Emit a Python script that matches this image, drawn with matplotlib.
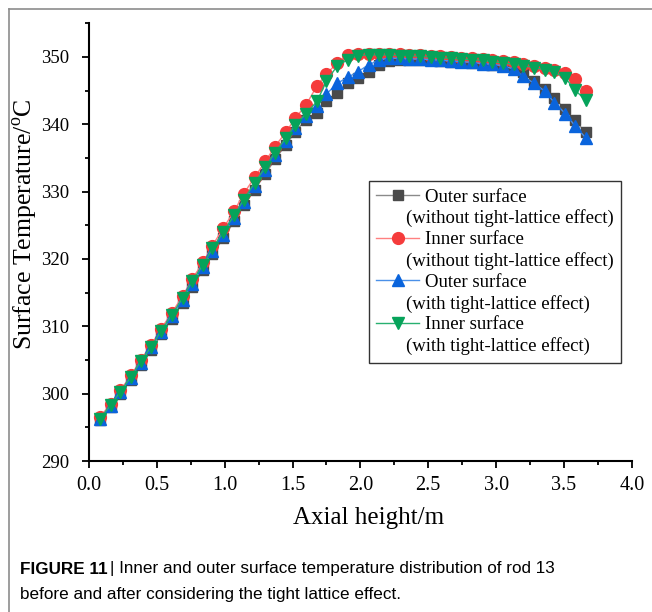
import numpy as np
import matplotlib
matplotlib.use("Agg")
import matplotlib.pyplot as plt
from matplotlib.lines import Line2D
from matplotlib.ticker import MultipleLocator

plt.rcParams['font.family'] = ['Liberation Serif', 'DejaVu Serif']
plt.rcParams['mathtext.fontset'] = 'custom'
plt.rcParams['mathtext.rm'] = 'Liberation Serif'

# axial height of each node (m)
height = [0.08, 0.16, 0.23, 0.31, 0.38, 0.46, 0.53, 0.61, 0.69, 0.76, 0.84, 0.91,
          0.99, 1.07, 1.14, 1.22, 1.30, 1.37, 1.45, 1.52, 1.60, 1.68, 1.75, 1.83,
          1.91, 1.98, 2.06, 2.14, 2.21, 2.29, 2.36, 2.44, 2.52, 2.59, 2.67, 2.74,
          2.82, 2.90, 2.97, 3.05, 3.13, 3.20, 3.28, 3.36, 3.43, 3.51, 3.58, 3.66]

# outer surface, without tight-lattice effect
outer_without = [296.1, 298.0, 300.0, 302.1, 304.3, 306.5, 308.8, 311.1, 313.5, 315.9, 318.3, 320.7,
                 323.1, 325.6, 328.0, 330.3, 332.6, 334.8, 336.9, 338.9, 340.7, 341.7, 343.5, 344.7,
                 346.1, 346.9, 347.8, 348.8, 349.4, 349.6, 349.6, 349.5, 349.5, 349.4, 349.3, 349.2,
                 349.1, 349.0, 348.8, 348.6, 348.5, 347.7, 346.5, 345.2, 343.9, 342.2, 340.6, 338.8]
# inner surface, without tight-lattice effect
inner_without = [296.5, 298.5, 300.5, 302.7, 305.0, 307.3, 309.6, 312.0, 314.5, 317.0, 319.5, 322.0,
                 324.6, 327.1, 329.7, 332.1, 334.5, 336.7, 338.8, 340.9, 342.9, 345.7, 347.5, 349.1,
                 350.3, 350.5, 350.5, 350.5, 350.4, 350.4, 350.3, 350.3, 350.2, 350.1, 350.0, 349.9,
                 349.8, 349.7, 349.6, 349.4, 349.2, 348.9, 348.6, 348.3, 348.0, 347.6, 346.7, 345.0]
# outer surface, with tight-lattice effect
outer_with = [296.2, 298.2, 300.2, 302.4, 304.6, 306.9, 309.1, 311.5, 313.9, 316.3, 318.8, 321.2,
              323.6, 326.1, 328.5, 330.9, 333.2, 335.4, 337.5, 339.5, 341.2, 342.7, 344.5, 346.1,
              347.0, 347.8, 348.8, 349.6, 349.8, 349.8, 349.7, 349.7, 349.6, 349.5, 349.4, 349.3,
              349.2, 349.0, 348.9, 348.7, 348.2, 347.1, 346.1, 344.9, 343.2, 341.6, 339.8, 338.0]
# inner surface, with tight-lattice effect
inner_with = [296.3, 298.3, 300.3, 302.5, 304.8, 307.0, 309.3, 311.7, 314.2, 316.7, 319.1, 321.6,
              324.0, 326.5, 328.8, 331.3, 333.6, 335.8, 337.9, 339.9, 341.6, 343.4, 346.4, 348.7,
              349.6, 350.2, 350.3, 350.3, 350.3, 350.2, 350.2, 350.1, 350.0, 349.9, 349.8, 349.7,
              349.6, 349.5, 349.3, 349.1, 348.9, 348.7, 348.4, 348.1, 347.7, 346.9, 345.1, 343.6]

fig = plt.figure(figsize=(6.52, 6.12), dpi=100)
ax = fig.add_axes([0.1365, 0.2467, 0.8325, 0.7153])

ax.plot(height, outer_without, color='#8a8a8a', lw=1, marker='s', ms=7,
        mfc='#4a4a4a', mec='#4a4a4a')
ax.plot(height, inner_without, color='#ff8080', lw=1, marker='o', ms=8.5,
        mfc='#f53b3b', mec='#f53b3b')
ax.plot(height, outer_with, color='#4a90e8', lw=1, marker='^', ms=8.5,
        mfc='#0a64dc', mec='#0a64dc')
ax.plot(height, inner_with, color='#28b070', lw=1, marker='v', ms=8.5,
        mfc='#06a35a', mec='#06a35a')

ax.set_xlim(0, 4.0)
ax.set_ylim(290, 355)
ax.xaxis.set_major_locator(MultipleLocator(0.5))
ax.xaxis.set_minor_locator(MultipleLocator(0.25))
ax.yaxis.set_major_locator(MultipleLocator(10))
ax.yaxis.set_minor_locator(MultipleLocator(5))
ax.set_xticks(np.arange(0, 4.01, 0.5))
ax.set_xticklabels(['%.1f' % v for v in np.arange(0, 4.01, 0.5)], fontsize=14.5)
ax.set_yticks(np.arange(290, 351, 10))
ax.set_yticklabels([str(v) for v in range(290, 351, 10)], fontsize=13.5)
ax.tick_params(which='major', direction='out', length=5, width=1.3)
ax.tick_params(which='minor', direction='out', length=3, width=1.3)
ax.tick_params(axis='x', pad=6)
ax.tick_params(axis='y', pad=9)

for s in ['top', 'right']:
    ax.spines[s].set_visible(False)
for s in ['left', 'bottom']:
    ax.spines[s].set_linewidth(1.5)

ax.set_xlabel('Axial height/m', fontsize=18)
ax.set_ylabel('Surface Temperature/$^\\mathregular{o}$C', fontsize=18.5)
ax.xaxis.set_label_coords(0.515, -0.105)
ax.yaxis.set_label_coords(-0.09, 0.54)

# legend: second line of each label as its own (handle-less) row
blank = Line2D([], [], linestyle='none', marker='none')
handles = [
    Line2D([], [], color='#8a8a8a', lw=1, marker='s', ms=7, mfc='#4a4a4a', mec='#4a4a4a'), blank,
    Line2D([], [], color='#ff8080', lw=1, marker='o', ms=8.5, mfc='#f53b3b', mec='#f53b3b'), blank,
    Line2D([], [], color='#4a90e8', lw=1, marker='^', ms=8.5, mfc='#0a64dc', mec='#0a64dc'), blank,
    Line2D([], [], color='#28b070', lw=1, marker='v', ms=8.5, mfc='#06a35a', mec='#06a35a'), blank,
]
labels = ['    Outer surface', '(without tight-lattice effect)',
          '    Inner surface', '(without tight-lattice effect)',
          '    Outer surface', '(with tight-lattice effect)',
          '    Inner surface', '(with tight-lattice effect)']
leg = ax.legend(handles, labels, loc='center', bbox_to_anchor=(0.748, 0.432),
                fontsize=13.5, frameon=True, fancybox=False, framealpha=1,
                edgecolor='#333333', handlelength=2.3, handletextpad=-0.7,
                labelspacing=0.2, borderpad=0.4, borderaxespad=0)
leg.get_frame().set_linewidth(1)

# figure border
fig.add_artist(Line2D([9 / 652, 9 / 652], [0, 1 - 9 / 612], transform=fig.transFigure,
                      color='#8c8c8c', lw=1.2))
fig.add_artist(Line2D([9 / 652, 1], [1 - 9 / 612, 1 - 9 / 612], transform=fig.transFigure,
                      color='#8c8c8c', lw=1.2))

# caption
cap_font = ['Liberation Sans', 'DejaVu Sans']
t1 = fig.text(20 / 652, 1 - 569 / 612, 'FIGURE 11', fontsize=12.3, fontweight='bold',
              family=cap_font, va='center', ha='left')
fig.canvas.draw()
bb = t1.get_window_extent().transformed(fig.transFigure.inverted())
fig.text(bb.x1 + 0.004, 1 - 569 / 612,
         '| Inner and outer surface temperature distribution of rod 13',
         fontsize=12.3, family=cap_font, va='center', ha='left')
fig.text(20 / 652, 1 - 594 / 612, 'before and after considering the tight lattice effect.',
         fontsize=12.3, family=cap_font, va='center', ha='left')

fig.savefig('out.png', dpi=100)
